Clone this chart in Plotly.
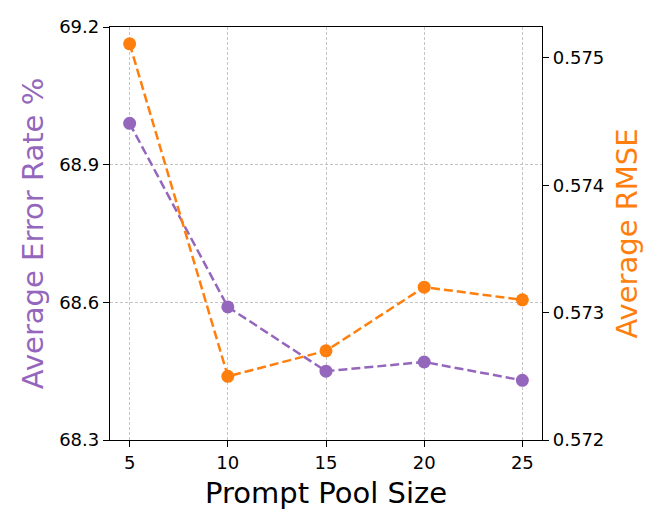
import plotly.graph_objects as go

pool_size = [5, 10, 15, 20, 25]
error_rate = [68.99, 68.59, 68.45, 68.47, 68.43]
rmse = [0.57511, 0.5725, 0.5727, 0.5732, 0.5731]

purple = "#9467bd"
orange = "#ff7f0e"
font = "DejaVu Sans"

fig = go.Figure()
fig.add_trace(go.Scatter(x=pool_size, y=error_rate, mode="lines+markers",
                         line=dict(color=purple, width=2.5, dash="9px,4px"),
                         marker=dict(color=purple, size=13),
                         name="Error Rate", yaxis="y"))
fig.add_trace(go.Scatter(x=pool_size, y=rmse, mode="lines+markers",
                         line=dict(color=orange, width=2.5, dash="9px,4px"),
                         marker=dict(color=orange, size=13),
                         name="RMSE", yaxis="y2"))

fig.update_layout(
    width=664, height=532,
    margin=dict(l=110, r=122, t=27, b=92),
    plot_bgcolor="white", paper_bgcolor="white",
    showlegend=False,
    font=dict(family=font, color="black", size=18),
    xaxis=dict(range=[4, 26], tickvals=pool_size,
               showline=True, linecolor="black", linewidth=1.3, mirror=True,
               ticks="outside", ticklen=6, tickwidth=1.3, tickcolor="black",
               showgrid=True, gridcolor="#c4c4c4", gridwidth=0.8, griddash="3px,2px",
               zeroline=False,
               title=dict(text="Prompt Pool Size", font=dict(size=29), standoff=10)),
    yaxis=dict(range=[68.3, 69.2], tickvals=[68.3, 68.6, 68.9, 69.2],
               tickformat=".1f",
               showline=True, linecolor="black", linewidth=1.3,
               ticks="outside", ticklen=6, tickwidth=1.3, tickcolor="black",
               showgrid=True, gridcolor="#c4c4c4", gridwidth=0.8, griddash="3px,2px",
               zeroline=False,
               title=dict(text="Average Error Rate %", font=dict(size=29, color=purple),
                          standoff=7)),
    yaxis2=dict(range=[0.572, 0.575242], tickvals=[0.572, 0.573, 0.574, 0.575],
                tickformat=".3f", overlaying="y", side="right",
                showline=True, linecolor="black", linewidth=1.3,
                ticks="outside", ticklen=6, tickwidth=1.3, tickcolor="black",
                showgrid=False, zeroline=False,
                title=dict(text="Average RMSE", font=dict(size=29, color=orange),
                           standoff=13)),
)

# drop the default body margin so the figure sits at the page corner
fig.write_html("out.html", config={"displayModeBar": False},
               post_script="document.body.style.margin='0px';")
